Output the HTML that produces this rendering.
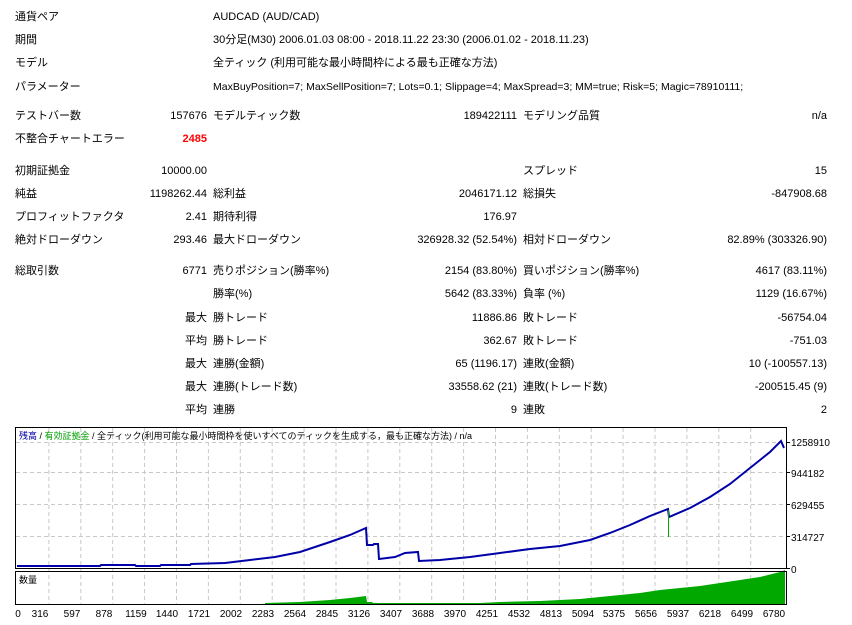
<!DOCTYPE html>
<html><head><meta charset="utf-8">
<style>
body{margin:0;width:852px;height:625px;background:#fff;position:relative;overflow:hidden;font-family:"Liberation Sans","Noto Sans CJK JP",sans-serif;font-size:11px;color:#000}
.t{position:absolute;height:14px;line-height:14px;white-space:nowrap}
.r{text-align:right}
</style></head><body>
<div class="t" style="left:15px;top:10px">通貨ペア</div><div class="t" style="left:213px;top:10px">AUDCAD (AUD/CAD)</div>
<div class="t" style="left:15px;top:33px">期間</div><div class="t" style="left:213px;top:33px">30分足(M30) 2006.01.03 08:00 - 2018.11.22 23:30 (2006.01.02 - 2018.11.23)</div>
<div class="t" style="left:15px;top:56px">モデル</div><div class="t" style="left:213px;top:56px">全ティック (利用可能な最小時間枠による最も正確な方法)</div>
<div class="t" style="left:15px;top:80px">パラメーター</div><div class="t" style="left:213px;top:80px;font-size:10.5px">MaxBuyPosition=7; MaxSellPosition=7; Lots=0.1; Slippage=4; MaxSpread=3; MM=true; Risk=5; Magic=78910111;</div>

<div class="t" style="left:15px;top:109px">テストバー数</div><div class="t r" style="right:645px;top:109px">157676</div>
<div class="t" style="left:213px;top:109px">モデルティック数</div><div class="t r" style="right:335px;top:109px">189422111</div>
<div class="t" style="left:523px;top:109px">モデリング品質</div><div class="t r" style="right:25px;top:109px">n/a</div>
<div class="t" style="left:15px;top:132px">不整合チャートエラー</div><div class="t r" style="right:645px;top:132px;color:#f00;font-weight:bold">2485</div>

<div class="t" style="left:15px;top:164px">初期証拠金</div><div class="t r" style="right:645px;top:164px">10000.00</div>
<div class="t" style="left:523px;top:164px">スプレッド</div><div class="t r" style="right:25px;top:164px">15</div>
<div class="t" style="left:15px;top:187px">純益</div><div class="t r" style="right:645px;top:187px">1198262.44</div>
<div class="t" style="left:213px;top:187px">総利益</div><div class="t r" style="right:335px;top:187px">2046171.12</div>
<div class="t" style="left:523px;top:187px">総損失</div><div class="t r" style="right:25px;top:187px">-847908.68</div>
<div class="t" style="left:15px;top:210px">プロフィットファクタ</div><div class="t r" style="right:645px;top:210px">2.41</div>
<div class="t" style="left:213px;top:210px">期待利得</div><div class="t r" style="right:335px;top:210px">176.97</div>
<div class="t" style="left:15px;top:233px">絶対ドローダウン</div><div class="t r" style="right:645px;top:233px">293.46</div>
<div class="t" style="left:213px;top:233px">最大ドローダウン</div><div class="t r" style="right:335px;top:233px">326928.32 (52.54%)</div>
<div class="t" style="left:523px;top:233px">相対ドローダウン</div><div class="t r" style="right:25px;top:233px">82.89% (303326.90)</div>

<div class="t" style="left:15px;top:264px">総取引数</div><div class="t r" style="right:645px;top:264px">6771</div>
<div class="t" style="left:213px;top:264px">売りポジション(勝率%)</div><div class="t r" style="right:335px;top:264px">2154 (83.80%)</div>
<div class="t" style="left:523px;top:264px">買いポジション(勝率%)</div><div class="t r" style="right:25px;top:264px">4617 (83.11%)</div>
<div class="t" style="left:213px;top:287px">勝率(%)</div><div class="t r" style="right:335px;top:287px">5642 (83.33%)</div>
<div class="t" style="left:523px;top:287px">負率 (%)</div><div class="t r" style="right:25px;top:287px">1129 (16.67%)</div>
<div class="t r" style="right:645px;top:311px">最大</div><div class="t" style="left:213px;top:311px">勝トレード</div><div class="t r" style="right:335px;top:311px">11886.86</div>
<div class="t" style="left:523px;top:311px">敗トレード</div><div class="t r" style="right:25px;top:311px">-56754.04</div>
<div class="t r" style="right:645px;top:334px">平均</div><div class="t" style="left:213px;top:334px">勝トレード</div><div class="t r" style="right:335px;top:334px">362.67</div>
<div class="t" style="left:523px;top:334px">敗トレード</div><div class="t r" style="right:25px;top:334px">-751.03</div>
<div class="t r" style="right:645px;top:357px">最大</div><div class="t" style="left:213px;top:357px">連勝(金額)</div><div class="t r" style="right:335px;top:357px">65 (1196.17)</div>
<div class="t" style="left:523px;top:357px">連敗(金額)</div><div class="t r" style="right:25px;top:357px">10 (-100557.13)</div>
<div class="t r" style="right:645px;top:380px">最大</div><div class="t" style="left:213px;top:380px">連勝(トレード数)</div><div class="t r" style="right:335px;top:380px">33558.62 (21)</div>
<div class="t" style="left:523px;top:380px">連敗(トレード数)</div><div class="t r" style="right:25px;top:380px">-200515.45 (9)</div>
<div class="t r" style="right:645px;top:403px">平均</div><div class="t" style="left:213px;top:403px">連勝</div><div class="t r" style="right:335px;top:403px">9</div>
<div class="t" style="left:523px;top:403px">連敗</div><div class="t r" style="right:25px;top:403px">2</div>

<svg style="position:absolute;left:0;top:0" width="852" height="625" font-family="Liberation Sans, Noto Sans CJK JP, sans-serif">
<g stroke="#c8c8c8" stroke-dasharray="4,3" stroke-width="1">
<line x1="16" y1="442.5" x2="786" y2="442.5"/><line x1="16" y1="472.5" x2="786" y2="472.5"/>
<line x1="16" y1="504.5" x2="786" y2="504.5"/><line x1="16" y1="536.5" x2="786" y2="536.5"/>
<g id="vg"></g>
</g>
<g stroke="#c8c8c8" stroke-dasharray="4,3">
<path d="M48.9 428V604M80.8 428V604M112.7 428V604M144.6 428V604M176.5 428V604M208.4 428V604M240.3 428V604M272.2 428V604M304.1 428V604M336 428V604M367.9 428V604M399.8 428V604M431.7 428V604M463.6 428V604M495.5 428V604M527.4 428V604M559.3 428V604M591.2 428V604M623.1 428V604M655 428V604M686.9 428V604M718.8 428V604M750.7 428V604"/>
</g>
<polygon fill="#00a800" points="265,604 265,603 300,602 330,600 350,598 366,596 367,602 372,602 373,603 420,603 440,603 480,603 500,602 540,601 580,599 600,597 620,595 640,593 660,590 680,588 700,586 720,583 740,580 760,577 780,572 785,570 785,604"/>
<polyline fill="none" stroke="#0000a8" stroke-width="2" points="17,566 100,566 101,565 135,565 136,566 160,566 161,565 190,565 191,564 225,563 250,560 275,557 300,552 330,542 350,535 366,528 367,545 373,545 374,544 378,544 379,559 395,557 405,553 418,552 419,561 440,560 470,557 500,553 530,549 560,546 590,540 610,533 630,525 650,516 668,509 669,517 690,508 710,497 730,484 750,468 770,452 781,441 784,448"/>
<line x1="668.5" y1="510" x2="668.5" y2="537" stroke="#00a800" stroke-width="1"/>
<rect x="15.5" y="427.5" width="771" height="141" fill="none" stroke="#000"/>
<rect x="15.5" y="571.5" width="771" height="33" fill="none" stroke="#000"/>
<g stroke="#000"><path d="M787 442.5h3M787 472.5h3M787 504.5h3M787 536.5h3M787 568.5h3"/></g>
<g font-size="10" fill="#000">
<text x="791" y="446">1258910</text><text x="791" y="477">944182</text><text x="791" y="509">629455</text><text x="791" y="541">314727</text><text x="791" y="573">0</text>
</g>
<text x="19" y="439" font-size="9"><tspan fill="#0000a8">残高</tspan> / <tspan fill="#00a000">有効証拠金</tspan> / 全ティック(利用可能な最小時間枠を使いすべてのティックを生成する，最も正確な方法) / n/a</text>
<text x="19" y="583" font-size="9">数量</text>
<g font-size="10" text-anchor="middle">
<text x="18" y="617">0</text><text x="40" y="617">316</text><text x="72" y="617">597</text><text x="104" y="617">878</text><text x="136" y="617">1159</text><text x="167" y="617">1440</text><text x="199" y="617">1721</text><text x="231" y="617">2002</text><text x="263" y="617">2283</text><text x="295" y="617">2564</text><text x="327" y="617">2845</text><text x="359" y="617">3126</text><text x="391" y="617">3407</text><text x="423" y="617">3688</text><text x="455" y="617">3970</text><text x="487" y="617">4251</text><text x="519" y="617">4532</text><text x="551" y="617">4813</text><text x="583" y="617">5094</text><text x="614" y="617">5375</text><text x="646" y="617">5656</text><text x="678" y="617">5937</text><text x="710" y="617">6218</text><text x="742" y="617">6499</text><text x="774" y="617">6780</text>
</g>
</svg>
</body></html>
